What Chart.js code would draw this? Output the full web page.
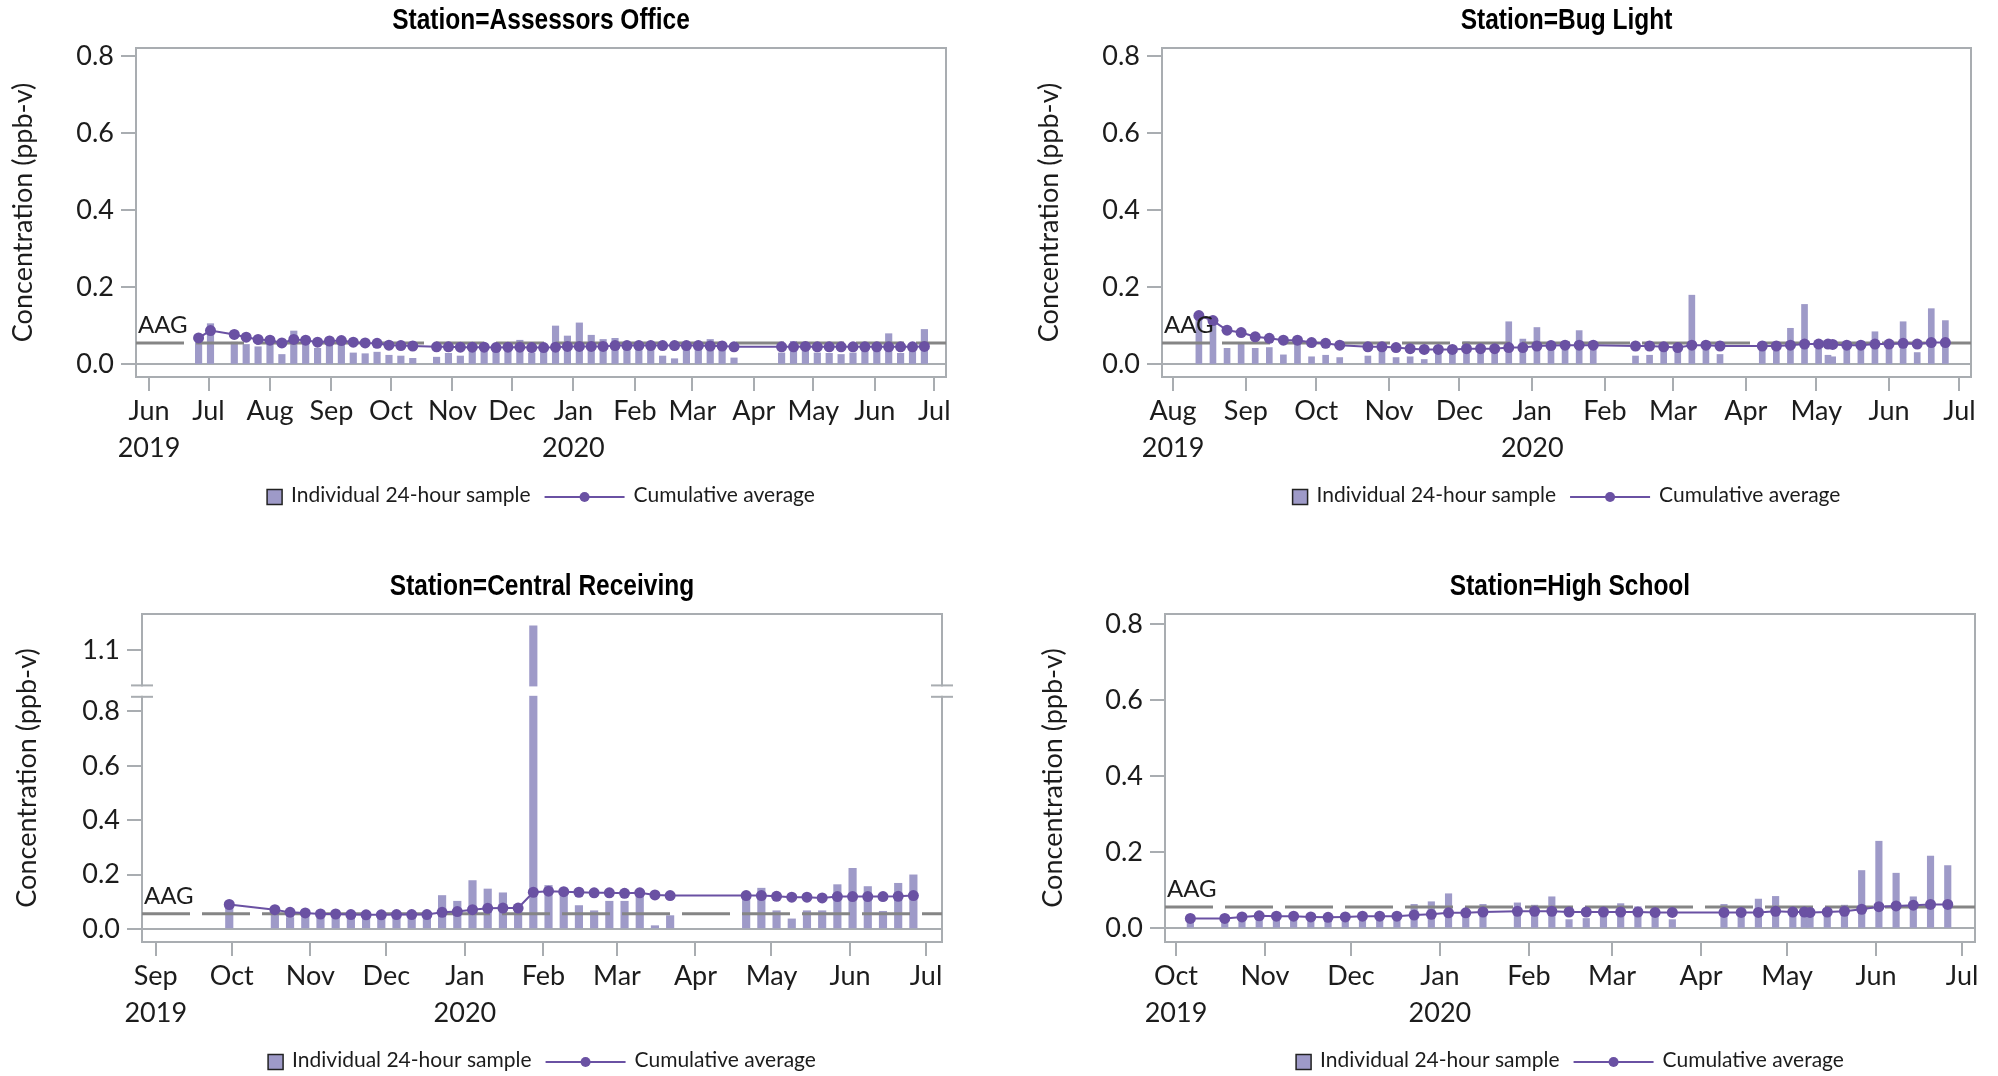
<!DOCTYPE html>
<html>
<head>
<meta charset="utf-8">
<script src="https://cdn.jsdelivr.net/npm/chart.js@4.4.1/dist/chart.umd.min.js"></script>
<style>
  html, body { margin: 0; padding: 0; background: #ffffff; }
  #wrap { position: relative; width: 1998px; height: 1076px; overflow: hidden; }
  .panel { position: absolute; width: 999px; height: 538px; }
  .panel canvas { display: block; }
</style>
</head>
<body>
<div id="wrap">
  <div class="panel" style="left:0;top:0"><canvas id="assessors" width="999" height="538"></canvas></div>
  <div class="panel" style="left:999px;top:0"><canvas id="buglight" width="999" height="538"></canvas></div>
  <div class="panel" style="left:0;top:538px"><canvas id="central" width="999" height="538"></canvas></div>
  <div class="panel" style="left:999px;top:538px"><canvas id="highschool" width="999" height="538"></canvas></div>
</div>
<script>
// ---------------------------------------------------------------------------
// Data
// ---------------------------------------------------------------------------
const aagLevel = 0.056;
const monthNames = ['Jan','Feb','Mar','Apr','May','Jun','Jul','Aug','Sep','Oct','Nov','Dec'];
const axisTitle = 'Concentration (ppb-v)';
const legendLabels = ['Individual 24-hour sample', 'Cumulative average'];
const yTicksStd = [0, 0.2, 0.4, 0.6, 0.8];
const yTicksCentral = [0, 0.2, 0.4, 0.6, 0.8, 1.1];

// Station=Assessors Office
const assessorsDates = ['2019-06-26','2019-07-02','2019-07-14','2019-07-20','2019-07-26','2019-08-01','2019-08-07','2019-08-13','2019-08-19','2019-08-25','2019-08-31','2019-09-06','2019-09-12','2019-09-18','2019-09-24','2019-09-30','2019-10-06','2019-10-12','2019-10-24','2019-10-30','2019-11-05','2019-11-11','2019-11-17','2019-11-23','2019-11-29','2019-12-05','2019-12-11','2019-12-17','2019-12-23','2019-12-29','2020-01-04','2020-01-10','2020-01-16','2020-01-22','2020-01-28','2020-02-03','2020-02-09','2020-02-15','2020-02-21','2020-02-27','2020-03-04','2020-03-10','2020-03-16','2020-03-22','2020-04-15','2020-04-21','2020-04-27','2020-05-03','2020-05-09','2020-05-15','2020-05-21','2020-05-27','2020-06-02','2020-06-08','2020-06-14','2020-06-20','2020-06-26'];
const assessorsSamples = [0.070,0.106,0.058,0.052,0.046,0.058,0.026,0.087,0.058,0.042,0.058,0.058,0.030,0.028,0.032,0.024,0.022,0.016,0.019,0.029,0.022,0.052,0.054,0.048,0.052,0.063,0.030,0.052,0.100,0.074,0.108,0.076,0.065,0.068,0.056,0.056,0.057,0.022,0.015,0.057,0.055,0.065,0.052,0.017,0.030,0.060,0.055,0.030,0.029,0.026,0.030,0.055,0.055,0.080,0.029,0.055,0.091];
const assessorsAverage = [0.069,0.088,0.078,0.071,0.065,0.063,0.056,0.065,0.063,0.058,0.061,0.062,0.058,0.056,0.055,0.050,0.049,0.048,0.046,0.046,0.045,0.045,0.045,0.044,0.045,0.045,0.044,0.044,0.045,0.047,0.047,0.047,0.047,0.049,0.049,0.049,0.049,0.049,0.049,0.049,0.049,0.048,0.048,0.046,0.046,0.046,0.047,0.046,0.046,0.046,0.046,0.046,0.046,0.046,0.046,0.046,0.047];
const assessorsRange = ['2019-05-25T10:30', '2020-07-06T21:30'];

// Station=Bug Light
const bugDates = ['2019-08-12','2019-08-18','2019-08-24','2019-08-30','2019-09-05','2019-09-11','2019-09-17','2019-09-23','2019-09-29','2019-10-05','2019-10-11','2019-10-23','2019-10-29','2019-11-04','2019-11-10','2019-11-16','2019-11-22','2019-11-28','2019-12-04','2019-12-10','2019-12-16','2019-12-22','2019-12-28','2020-01-03','2020-01-09','2020-01-15','2020-01-21','2020-01-27','2020-02-14','2020-02-20','2020-02-26','2020-03-03','2020-03-09','2020-03-15','2020-03-21','2020-04-08','2020-04-14','2020-04-20','2020-04-26','2020-05-02','2020-05-06','2020-05-08','2020-05-14','2020-05-20','2020-05-26','2020-06-01','2020-06-07','2020-06-13','2020-06-19','2020-06-25'];
const bugSamples = [0.127,0.105,0.042,0.053,0.042,0.044,0.025,0.061,0.020,0.024,0.018,0.022,0.055,0.018,0.020,0.013,0.040,0.040,0.059,0.040,0.040,0.111,0.066,0.096,0.057,0.044,0.088,0.048,0.022,0.024,0.044,0.040,0.180,0.048,0.026,0.048,0.035,0.094,0.156,0.040,0.024,0.020,0.044,0.048,0.085,0.048,0.111,0.031,0.145,0.114];
const bugAverage = [0.127,0.114,0.089,0.083,0.072,0.068,0.063,0.063,0.057,0.055,0.050,0.046,0.046,0.044,0.041,0.039,0.039,0.039,0.041,0.041,0.041,0.044,0.044,0.048,0.049,0.050,0.050,0.050,0.048,0.048,0.046,0.044,0.050,0.050,0.048,0.048,0.048,0.050,0.053,0.053,0.053,0.052,0.050,0.050,0.053,0.053,0.055,0.053,0.057,0.057];
const bugRange = ['2019-07-27T07:00', '2020-07-05T22:00'];

// Station=Central Receiving
const centralDates = ['2019-09-30','2019-10-18','2019-10-24','2019-10-30','2019-11-05','2019-11-11','2019-11-17','2019-11-23','2019-11-29','2019-12-05','2019-12-11','2019-12-17','2019-12-23','2019-12-29','2020-01-04','2020-01-10','2020-01-16','2020-01-22','2020-01-28','2020-02-03','2020-02-09','2020-02-15','2020-02-21','2020-02-27','2020-03-04','2020-03-10','2020-03-16','2020-03-22','2020-04-21','2020-04-27','2020-05-03','2020-05-09','2020-05-15','2020-05-21','2020-05-27','2020-06-02','2020-06-08','2020-06-14','2020-06-20','2020-06-26'];
const centralSamples = [0.090,0.052,0.042,0.055,0.040,0.056,0.045,0.046,0.052,0.058,0.053,0.052,0.123,0.102,0.178,0.147,0.133,0.075,1.190,0.160,0.135,0.086,0.067,0.102,0.102,0.135,0.012,0.049,0.123,0.150,0.067,0.037,0.067,0.067,0.163,0.223,0.156,0.065,0.168,0.199];
const centralAverage = [0.090,0.071,0.061,0.059,0.055,0.055,0.053,0.052,0.052,0.053,0.053,0.053,0.061,0.064,0.071,0.076,0.077,0.077,0.135,0.139,0.137,0.135,0.133,0.133,0.131,0.133,0.125,0.123,0.123,0.123,0.120,0.117,0.117,0.114,0.119,0.119,0.119,0.119,0.120,0.123];
const centralRange = ['2019-08-26T13:30', '2020-07-07T07:00'];
const centralBreak = { lo: 0.854, hi: 0.971, gap: 11.4 };

// Station=High School
const schoolDates = ['2019-10-06','2019-10-18','2019-10-24','2019-10-30','2019-11-05','2019-11-11','2019-11-17','2019-11-23','2019-11-29','2019-12-05','2019-12-11','2019-12-17','2019-12-23','2019-12-29','2020-01-04','2020-01-10','2020-01-16','2020-01-28','2020-02-03','2020-02-09','2020-02-15','2020-02-21','2020-02-27','2020-03-04','2020-03-10','2020-03-16','2020-03-22','2020-04-09','2020-04-15','2020-04-21','2020-04-27','2020-05-03','2020-05-07','2020-05-09','2020-05-15','2020-05-21','2020-05-27','2020-06-02','2020-06-08','2020-06-14','2020-06-20','2020-06-26'];
const schoolSamples = [0.026,0.026,0.034,0.040,0.030,0.032,0.025,0.026,0.030,0.040,0.032,0.033,0.063,0.070,0.091,0.040,0.063,0.067,0.061,0.083,0.023,0.026,0.045,0.065,0.057,0.040,0.023,0.063,0.045,0.077,0.084,0.057,0.057,0.052,0.045,0.061,0.152,0.229,0.145,0.083,0.190,0.165];
const schoolAverage = [0.026,0.026,0.030,0.033,0.032,0.032,0.030,0.029,0.030,0.032,0.032,0.032,0.035,0.037,0.041,0.041,0.043,0.045,0.045,0.045,0.043,0.043,0.043,0.043,0.043,0.042,0.042,0.042,0.042,0.042,0.045,0.043,0.043,0.042,0.043,0.045,0.050,0.057,0.059,0.061,0.063,0.063];
const schoolRange = ['2019-09-27T04:00', '2020-07-05T12:00'];

// ---------------------------------------------------------------------------
// Styling
// ---------------------------------------------------------------------------
const FRAME = '#a9adb1';
const TEXT = '#1c1c1c';
const BAR = '#9e9ac8';
const AVG = '#6a51a3';
const AAG_GRAY = '#858585';
const FONT = 'Lato, "Open Sans", sans-serif';
const TITLE_FONT = 'bold 29px "Liberation Sans", Arial, sans-serif';
const TITLE_SQUEEZE = 0.845;

// ---------------------------------------------------------------------------
// Helpers
// ---------------------------------------------------------------------------
const DAY = 86400000;
function toDay(s) { return Date.parse(s.length > 10 ? s + 'Z' : s + 'T00:00Z') / DAY; }

function monthStarts(min, max) {
  const out = [];
  const d0 = new Date(min * DAY);
  let y = d0.getUTCFullYear(), m = d0.getUTCMonth();
  for (;;) {
    const v = Date.UTC(y, m, 1) / DAY;
    if (v > max) break;
    if (v >= min) out.push(v);
    m += 1;
    if (m > 11) { m = 0; y += 1; }
  }
  return out;
}

function monthLabel(value, index) {
  const d = new Date(Math.round(value) * DAY);
  const name = monthNames[d.getUTCMonth()];
  if (index === 0 || d.getUTCMonth() === 0) return [name, String(d.getUTCFullYear())];
  return name;
}

// Linear value axis with a gap cut out of it (used for the station with one very high sample)
class BrokenLinearScale extends Chart.LinearScale {
  _brk() { return this.options.brk; }
  getPixelForValue(value) {
    if (value === null || value === undefined || isNaN(value)) return NaN;
    const b = this._brk();
    const h = this.bottom - this.top;
    const span = (this.max - this.min) - (b.hi - b.lo);
    const ppu = (h - b.gap) / span;
    if (value <= b.lo) return this.bottom - (value - this.min) * ppu;
    const yLo = this.bottom - (b.lo - this.min) * ppu;
    if (value >= b.hi) return yLo - b.gap - (value - b.hi) * ppu;
    return yLo - b.gap * (value - b.lo) / (b.hi - b.lo);
  }
  getValueForPixel(pixel) {
    const b = this._brk();
    const h = this.bottom - this.top;
    const span = (this.max - this.min) - (b.hi - b.lo);
    const ppu = (h - b.gap) / span;
    const yLo = this.bottom - (b.lo - this.min) * ppu;
    if (pixel >= yLo) return this.min + (this.bottom - pixel) / ppu;
    if (pixel <= yLo - b.gap) return b.hi + (yLo - b.gap - pixel) / ppu;
    return b.lo + (yLo - pixel) / b.gap * (b.hi - b.lo);
  }
}
BrokenLinearScale.id = 'brokenLinear';
BrokenLinearScale.defaults = {};
Chart.register(BrokenLinearScale);

// Frame, zero line, AAG label, axis break, panel title and legend
const panelDecor = {
  id: 'panelDecor',
  beforeDatasetsDraw(chart, args, o) {
    const { ctx, chartArea: a } = chart;
    const ys = chart.scales.y;
    ctx.save();
    ctx.strokeStyle = FRAME;
    ctx.lineWidth = 2;
    ctx.strokeRect(a.left, a.top, a.right - a.left, a.bottom - a.top);
    const y0 = Math.round(ys.getPixelForValue(0));
    ctx.beginPath();
    ctx.moveTo(a.left, y0);
    ctx.lineTo(a.right, y0);
    ctx.stroke();
    ctx.restore();
  },
  afterDatasetsDraw(chart, args, o) {
    const { ctx, chartArea: a } = chart;
    const ys = chart.scales.y;
    ctx.save();
    if (o.brk) {
      const yl = ys.getPixelForValue(o.brk.lo);
      const yh = ys.getPixelForValue(o.brk.hi);
      ctx.fillStyle = '#ffffff';
      ctx.fillRect(a.left - 3, yh + 1, a.right - a.left + 6, yl - yh - 2);
      ctx.strokeStyle = FRAME;
      ctx.lineWidth = 2;
      [a.left, a.right].forEach(x => {
        [yh, yl].forEach(y => {
          ctx.beginPath();
          ctx.moveTo(x - 11, y);
          ctx.lineTo(x + 11, y);
          ctx.stroke();
        });
      });
    }
    ctx.fillStyle = TEXT;
    ctx.font = '24px ' + FONT;
    ctx.textAlign = 'left';
    ctx.textBaseline = 'alphabetic';
    ctx.fillText('AAG', a.left + 2, ys.getPixelForValue(o.aag) - 10);
    ctx.restore();
  },
  afterDraw(chart, args, o) {
    const { ctx, chartArea: a } = chart;
    const cx = (a.left + a.right) / 2;
    ctx.save();
    // title, set in a condensed bold face
    ctx.save();
    ctx.translate(cx, a.top - 27);
    ctx.scale(TITLE_SQUEEZE, 1);
    ctx.fillStyle = '#000000';
    ctx.font = TITLE_FONT;
    ctx.textAlign = 'center';
    ctx.textBaseline = 'middle';
    ctx.fillText(o.title, 0, 0);
    ctx.restore();

    // legend
    const ly = a.bottom + 118;
    ctx.font = '21px ' + FONT;
    ctx.textAlign = 'left';
    ctx.textBaseline = 'middle';
    const w1 = ctx.measureText(legendLabels[0]).width;
    const w2 = ctx.measureText(legendLabels[1]).width;
    const sq = 15, g1 = 9, g2 = 14, lw = 80, g3 = 9;
    let x = cx - (sq + g1 + w1 + g2 + lw + g3 + w2) / 2;
    ctx.fillStyle = BAR;
    ctx.fillRect(x, ly - sq / 2 + 2, sq, sq);
    ctx.strokeStyle = '#222222';
    ctx.lineWidth = 1.5;
    ctx.strokeRect(x, ly - sq / 2 + 2, sq, sq);
    x += sq + g1;
    ctx.fillStyle = TEXT;
    ctx.fillText(legendLabels[0], x, ly);
    x += w1 + g2;
    ctx.strokeStyle = AVG;
    ctx.lineWidth = 2;
    ctx.beginPath();
    ctx.moveTo(x, ly + 2);
    ctx.lineTo(x + lw, ly + 2);
    ctx.stroke();
    ctx.fillStyle = AVG;
    ctx.beginPath();
    ctx.arc(x + lw / 2, ly + 2, 5, 0, Math.PI * 2);
    ctx.fill();
    x += lw + g3;
    ctx.fillStyle = TEXT;
    ctx.fillText(legendLabels[1], x, ly);
    ctx.restore();
  }
};

function makePanel(id, p) {
  const canvas = document.getElementById(id);
  const W = canvas.width, H = canvas.height;
  const xMin = toDay(p.range[0]), xMax = toDay(p.range[1]);
  const tickFont = { family: FONT, size: 27, lineHeight: 1.37 };

  const samples = p.dates.map((d, i) => ({ x: toDay(d), y: p.samples[i] }));
  const average = p.dates.map((d, i) => ({ x: toDay(d), y: p.average[i] }));

  return new Chart(canvas, {
    type: 'bar',
    data: {
      datasets: [
        {
          type: 'bar',
          label: legendLabels[0],
          data: samples,
          backgroundColor: BAR,
          borderWidth: 0,
          barThickness: p.barWidth,
          grouped: false,
          order: 3
        },
        {
          type: 'line',
          label: 'AAG',
          data: [{ x: xMin, y: aagLevel }, { x: xMax, y: aagLevel }],
          borderColor: AAG_GRAY,
          borderWidth: 3,
          borderDash: [48, 12],
          pointRadius: 0,
          order: 2
        },
        {
          type: 'line',
          label: legendLabels[1],
          data: average,
          borderColor: AVG,
          borderWidth: 2,
          tension: 0,
          pointRadius: 5.5,
          pointBackgroundColor: AVG,
          pointBorderWidth: 0,
          order: 1
        }
      ]
    },
    options: {
      responsive: false,
      animation: false,
      events: [],
      layout: { padding: { left: 0, top: p.area.top, right: W - p.area.right, bottom: 0 } },
      plugins: {
        legend: { display: false },
        tooltip: { enabled: false },
        panelDecor: { title: p.title, aag: aagLevel, brk: p.brk || null }
      },
      scales: {
        x: {
          type: 'linear',
          min: xMin,
          max: xMax,
          offset: false,
          afterBuildTicks: s => { s.ticks = monthStarts(s.min, s.max).map(v => ({ value: v })); },
          afterFit: s => { s.height = H - p.area.bottom; },
          grid: { display: true, offset: false, drawOnChartArea: false, drawTicks: true, tickLength: 14, color: FRAME, lineWidth: 2 },
          border: { display: false },
          ticks: { autoSkip: false, maxRotation: 0, minRotation: 0, padding: 2, color: TEXT, font: tickFont, callback: monthLabel }
        },
        y: {
          type: p.brk ? 'brokenLinear' : 'linear',
          brk: p.brk || undefined,
          min: p.yMin,
          max: p.yMax,
          afterBuildTicks: s => { s.ticks = p.yTicks.map(v => ({ value: v })); },
          afterFit: s => { s.width = p.area.left; },
          grid: { display: true, drawOnChartArea: false, drawTicks: true, tickLength: 15, color: FRAME, lineWidth: 2 },
          border: { display: false },
          ticks: { padding: 7, color: TEXT, font: { family: FONT, size: 27 }, callback: v => Number(v).toFixed(1) },
          title: { display: true, text: axisTitle, color: TEXT, font: { family: FONT, size: 27 }, padding: { top: p.yTitlePad, bottom: 0 } }
        }
      }
    },
    plugins: [panelDecor]
  });
}

makePanel('assessors', {
  title: 'Station=Assessors Office',
  dates: assessorsDates, samples: assessorsSamples, average: assessorsAverage,
  range: assessorsRange, yTicks: yTicksStd, yMin: -0.0325, yMax: 0.822,
  area: { left: 136, top: 48, right: 946, bottom: 377 },
  barWidth: 6.5, yTitlePad: 7
});

makePanel('buglight', {
  title: 'Station=Bug Light',
  dates: bugDates, samples: bugSamples, average: bugAverage,
  range: bugRange, yTicks: yTicksStd, yMin: -0.0325, yMax: 0.822,
  area: { left: 163, top: 48, right: 972, bottom: 377 },
  barWidth: 6, yTitlePad: 34
});

makePanel('central', {
  title: 'Station=Central Receiving',
  dates: centralDates, samples: centralSamples, average: centralAverage,
  range: centralRange, yTicks: yTicksCentral, yMin: -0.048, yMax: 1.2337,
  area: { left: 142, top: 76, right: 942, bottom: 404 },
  barWidth: 7.5, yTitlePad: 11, brk: centralBreak
});

makePanel('highschool', {
  title: 'Station=High School',
  dates: schoolDates, samples: schoolSamples, average: schoolAverage,
  range: schoolRange, yTicks: yTicksStd, yMin: -0.0358, yMax: 0.826,
  area: { left: 166, top: 76, right: 976, bottom: 404 },
  barWidth: 6.5, yTitlePad: 38
});
</script>
</body>
</html>
